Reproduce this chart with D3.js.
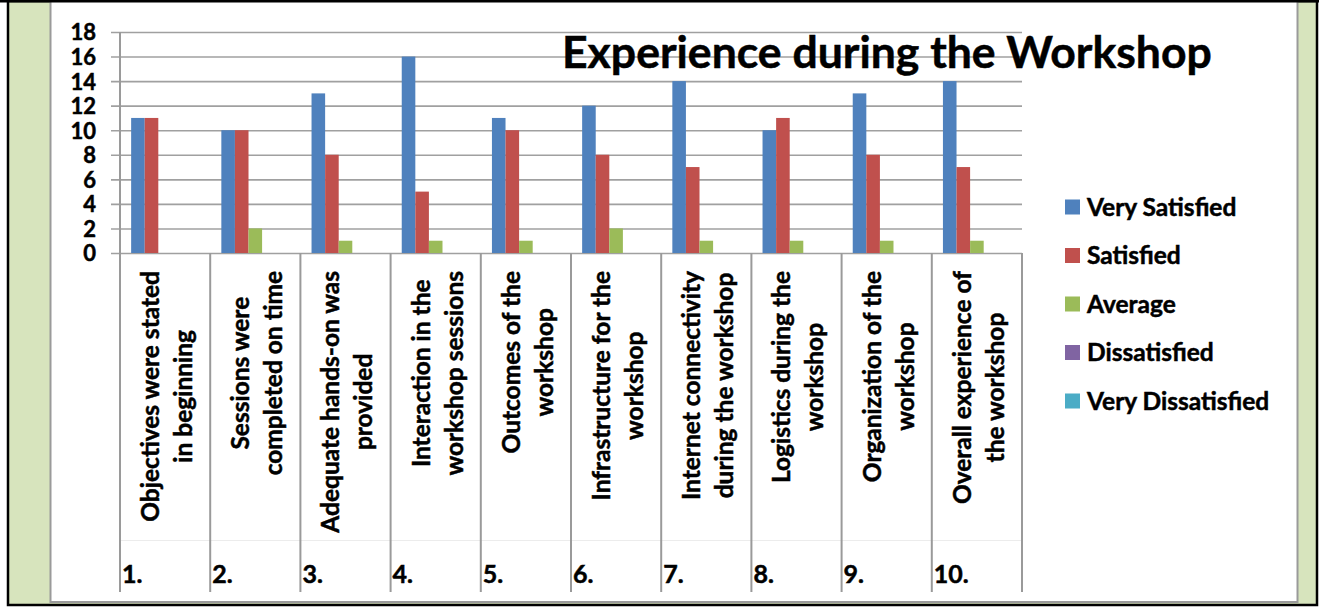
<!DOCTYPE html>
<html>
<head>
<meta charset="utf-8">
<script src="https://cdn.jsdelivr.net/npm/d3@7.9.0/dist/d3.min.js"></script>
<style>
  body { margin: 0; background: #fff; }
  svg { display: block; }
  text { font-family: Lato, "Open Sans", sans-serif; font-weight: bold; fill: #000;
         stroke: #000; stroke-width: 0.5px; }
</style>
</head>
<body>
<svg id="chart" width="1319" height="607"></svg>
<script>
// chart data
const categories = [
  ["Objectives were stated", "in beginning"],
  ["Sessions were", "completed on time"],
  ["Adequate hands-on was", "provided"],
  ["Interaction in the", "workshop sessions"],
  ["Outcomes of the", "workshop"],
  ["Infrastructure for the", "workshop"],
  ["Internet connectivity", "during the workshop"],
  ["Logistics during the", "workshop"],
  ["Organization of the", "workshop"],
  ["Overall experience of", "the workshop"]
];
const itemNumbers = ["1.", "2.", "3.", "4.", "5.", "6.", "7.", "8.", "9.", "10."];
const seriesNames = ["Very Satisfied", "Satisfied", "Average", "Dissatisfied", "Very Dissatisfied"];
const verySatisfied    = [11, 10, 13, 16, 11, 12, 14, 10, 13, 14];
const satisfied        = [11, 10,  8,  5, 10,  8,  7, 11,  8,  7];
const average          = [ 0,  2,  1,  1,  1,  2,  1,  1,  1,  1];
const dissatisfied     = [ 0,  0,  0,  0,  0,  0,  0,  0,  0,  0];
const veryDissatisfied = [ 0,  0,  0,  0,  0,  0,  0,  0,  0,  0];
const yTicks = [0, 2, 4, 6, 8, 10, 12, 14, 16, 18];
const colors = ["#4f81bd", "#c0504d", "#9bbb59", "#8064a2", "#4bacc6"];
const title = "Experience during the Workshop";

const allSeries = [verySatisfied, satisfied, average, dissatisfied, veryDissatisfied];
const rows = categories.map((c, i) => ({
  i,
  values: seriesNames.map((s, k) => ({ key: s, k, value: allSeries[k][i] }))
}));

const svg = d3.select("#chart");

// frame: black outline, green side panels, white chart area
svg.append("rect").attr("x", 8).attr("y", 1).attr("width", 1309).attr("height", 604)
  .attr("fill", "#d7e4bd").attr("stroke", "#000").attr("stroke-width", 2.5);
svg.append("rect").attr("x", 50.5).attr("y", -5).attr("width", 1247).attr("height", 607)
  .attr("fill", "#fff").attr("stroke", "#9a9a9a").attr("stroke-width", 2);
svg.append("line").attr("x1", 0).attr("x2", 1319).attr("y1", 1).attr("y2", 1)
  .attr("stroke", "#000").attr("stroke-width", 3);

const plotLeft = 120, plotRight = 1022, plotTop = 32, plotBottom = 253;

const x = d3.scaleBand().domain(d3.range(categories.length)).range([plotLeft, plotRight]);
const x1 = d3.scaleBand().domain(d3.range(seriesNames.length))
  .range([0, x.bandwidth()]).paddingOuter(0.82);
const y = d3.scaleLinear().domain([0, 18]).range([plotBottom, plotTop]);

// gridlines + tick labels
const yAxis = svg.append("g").attr("transform", `translate(111,0)`)
  .call(d3.axisLeft(y).tickValues(yTicks).tickSize(-(plotRight - 111)).tickPadding(15));
yAxis.select(".domain").remove();
yAxis.selectAll(".tick line").attr("stroke", "#a0a0a0").attr("stroke-width", 1.6);
yAxis.selectAll(".tick text").style("font-size", "22px").attr("dy", "0.36em");

// faint separator between label levels
svg.append("line").attr("x1", plotLeft).attr("x2", plotRight).attr("y1", 540.5).attr("y2", 540.5)
  .attr("stroke", "#ececec").attr("stroke-width", 1);

// category dividers
const dividers = d3.range(categories.length + 1).map(i => i < categories.length ? x(i) : plotRight);
svg.append("g").selectAll("line").data(dividers).join("line")
  .attr("x1", d => d).attr("x2", d => d)
  .attr("y1", (d, i) => i === 0 ? plotTop : plotBottom).attr("y2", 592)
  .attr("stroke", "#9a9a9a").attr("stroke-width", 2);

// bars
svg.append("g").selectAll("g").data(rows).join("g")
  .attr("transform", d => `translate(${x(d.i)},0)`)
  .selectAll("rect").data(d => d.values.filter(v => v.value > 0)).join("rect")
  .attr("x", d => x1(d.k))
  .attr("width", x1.bandwidth())
  .attr("y", d => y(d.value))
  .attr("height", d => y(0) - y(d.value))
  .attr("fill", d => colors[d.k]);

// rotated category labels (top aligned, lines centred)
const labels = svg.append("g").selectAll("g").data(categories).join("g")
  .attr("transform", (d, i) => `translate(${x(i)},0)`);
labels.each(function (lines) {
  const g = d3.select(this);
  const ts = lines.map((ln, j) => g.append("text")
    .attr("text-anchor", "middle")
    .style("font-size", "24.5px")
    .text(ln));
  const maxW = d3.max(ts, t => t.node().getComputedTextLength());
  const cy = 271 + maxW / 2;
  ts.forEach((t, j) => t.attr("transform", `translate(${39 + j * 33},${cy}) rotate(-90)`));
});

// item numbers
svg.append("g").selectAll("text").data(itemNumbers).join("text")
  .attr("x", (d, i) => x(i) + 2).attr("y", 583)
  .style("font-size", "25px")
  .text(d => d);

// title
const t = svg.append("text").attr("x", 562).attr("y", 68)
  .style("font-size", "38px").text(title);
const tw = t.node().getComputedTextLength();
t.style("font-size", (38 * 650 / tw) + "px");

// legend
const legend = svg.append("g").selectAll("g").data(seriesNames).join("g")
  .attr("transform", (d, i) => `translate(1065,${207 + i * 48.5})`);
legend.append("rect").attr("x", 0).attr("y", -7.5).attr("width", 15).attr("height", 15)
  .attr("fill", (d, i) => colors[i]);
legend.append("text").attr("x", 22).attr("dy", "0.36em")
  .style("font-size", "24.5px").text(d => d);
</script>
</body>
</html>
